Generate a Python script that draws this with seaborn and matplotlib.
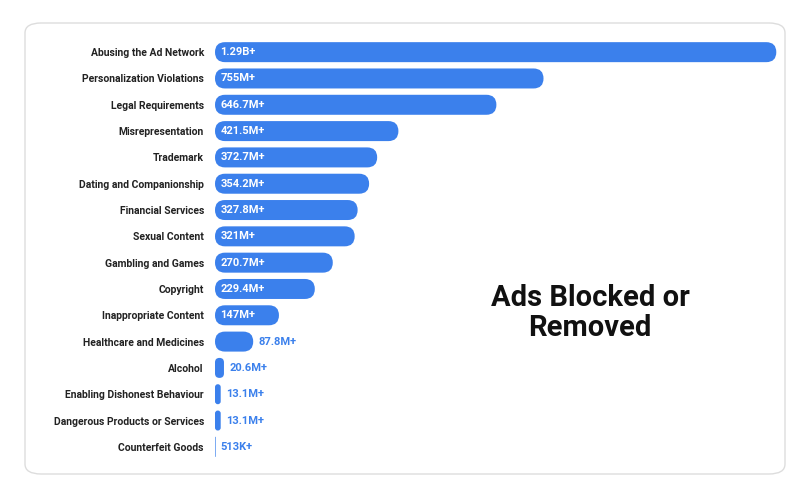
import matplotlib
matplotlib.use("Agg")
import matplotlib.pyplot as plt
import seaborn as sns
import pandas as pd
from matplotlib.patches import FancyBboxPatch

categories = ["Abusing the Ad Network", "Personalization Violations", "Legal Requirements",
              "Misrepresentation", "Trademark", "Dating and Companionship", "Financial Services",
              "Sexual Content", "Gambling and Games", "Copyright", "Inappropriate Content",
              "Healthcare and Medicines", "Alcohol", "Enabling Dishonest Behaviour",
              "Dangerous Products or Services", "Counterfeit Goods"]
values_m = [1290, 755, 646.7, 421.5, 372.7, 354.2, 327.8, 321, 270.7, 229.4, 147, 87.8,
            20.6, 13.1, 13.1, 0.513]
labels = ["1.29B+", "755M+", "646.7M+", "421.5M+", "372.7M+", "354.2M+", "327.8M+", "321M+",
          "270.7M+", "229.4M+", "147M+", "87.8M+", "20.6M+", "13.1M+", "13.1M+", "513K+"]

BLUE = "#3b80ec"
sns.set_theme(style="white")
plt.rcParams["font.family"] = ["Roboto", "DejaVu Sans"]

fig = plt.figure(figsize=(8.05, 5.0), dpi=100)
fig.patches.append(FancyBboxPatch((25 / 805, 26 / 500), 760 / 805, 451 / 500,
                                  boxstyle="round,pad=0,rounding_size=0.02",
                                  transform=fig.transFigure, facecolor="none",
                                  edgecolor="#dddddd", linewidth=1, zorder=-1))
ax = fig.add_axes([215 / 805, 0.08, 570 / 805, 0.842])
ax.patch.set_alpha(0)

df = pd.DataFrame({"cat": categories, "val": values_m})
sns.barplot(data=df, x="val", y="cat", color=BLUE, width=0.76, saturation=1, ax=ax)

# round bar ends
xlim = 1310
ax.set_xlim(0, xlim)
ax.set_ylim(15.5, -0.5)
w_px, h_px = 570, 421
aspect = (16 / h_px) / (xlim / w_px)
for p in list(ax.patches):
    x, y, w, h = p.get_x(), p.get_y(), p.get_width(), p.get_height()
    r = min(h / aspect / 2, w / 2) if w > 0 else 0
    nb = FancyBboxPatch((x, y), max(w, 1.5), h,
                        boxstyle=f"round,pad=0,rounding_size={max(r, 0.1)}",
                        mutation_aspect=aspect, facecolor=BLUE, edgecolor="none")
    p.remove()
    ax.add_patch(nb)

for i, (v, lab) in enumerate(zip(values_m, labels)):
    if v > 120:
        ax.text(12, i, lab, color="white", fontsize=8, fontweight="bold", va="center", ha="left")
    else:
        ax.text(max(v, 1.5) + 12, i, lab, color=BLUE, fontsize=8, fontweight="bold",
                va="center", ha="left")

ax.set_xlabel("")
ax.set_ylabel("")
ax.set_xticks([])
ax.tick_params(axis="y", length=0, pad=8, labelsize=7.5)
for t in ax.get_yticklabels():
    t.set_fontweight("bold")
    t.set_color("#222222")
sns.despine(ax=ax, left=True, bottom=True)

fig.text(590 / 805, 1 - 313 / 500, "Ads Blocked or\nRemoved", ha="center", va="center",
         fontsize=21, fontweight="bold", color="#111111", linespacing=1.05)

fig.savefig("out.png", dpi=100)
